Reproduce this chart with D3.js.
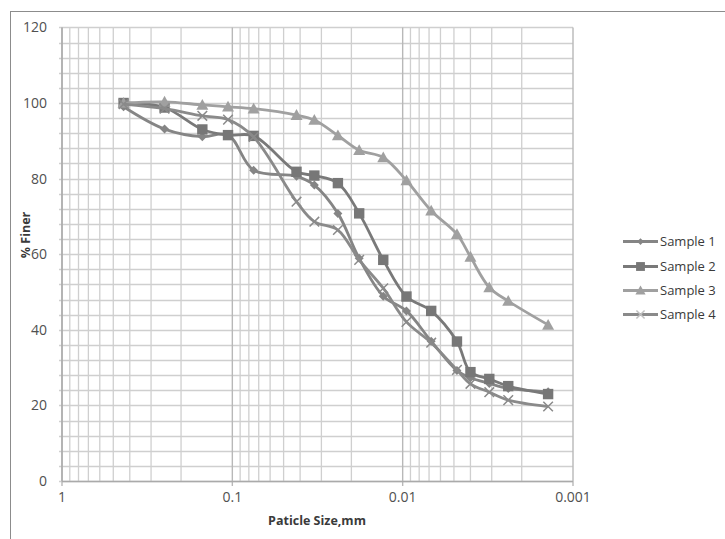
<!DOCTYPE html>
<html><head><meta charset="utf-8">
<script src="https://cdn.jsdelivr.net/npm/d3@7/dist/d3.min.js"></script>
<style>body{margin:0;background:#fff}svg{display:block}text{font-family:"Open Sans",sans-serif}</style>
</head><body><div id="chart"></div>
<script>
const sizes = [0.435, 0.25, 0.15, 0.106, 0.075, 0.042, 0.033, 0.024, 0.018, 0.013, 0.0095, 0.0068, 0.0048, 0.004, 0.0031, 0.0024, 0.0014];
const sample1 = [99, 93.1, 91.1, 91.6, 82.2, 80.6, 78.3, 70.8, 58.9, 48.9, 45, 37, 29.2, 27.3, 25.8, 24.5, 23.6];
const sample2 = [100, 98.8, 93, 91.5, 91.3, 81.8, 80.8, 78.8, 70.8, 58.5, 48.8, 45, 36.9, 28.8, 27, 25.1, 23];
const sample3 = [100, 100.3, 99.5, 99, 98.5, 96.8, 95.5, 91.4, 87.5, 85.6, 79.5, 71.5, 65.3, 59.3, 51.2, 47.6, 41.3];
const sample4 = [99.7, 98.5, 96.6, 95.6, 91, 73.9, 68.6, 66.4, 58.5, 51, 42.1, 36.6, 29.4, 25.7, 23.5, 21.4, 19.7];
const seriesNames = ["Sample 1", "Sample 2", "Sample 3", "Sample 4"];
const xTickLabels = ["1", "0.1", "0.01", "0.001"];
const yTicks = [0, 20, 40, 60, 80, 100, 120];

const W = 725, H = 539;
const svg = d3.select("#chart").append("svg").attr("width", W).attr("height", H);
const L = 62, R = 573, T = 27.4, B = 481;
const x = d3.scaleLog().domain([1, 0.001]).range([L, R]);
const y = d3.scaleLinear().domain([0, 120]).range([B, T]);

// outer border
svg.append("rect").attr("x", 10.5).attr("y", 11.5).attr("width", 900).attr("height", 900)
  .attr("fill", "none").attr("stroke", "#8c8c8c").attr("stroke-width", 1);

const g = svg.append("g");
d3.range(0, 121, 4).forEach(v => {
  g.append("line").attr("x1", L - 3).attr("x2", R).attr("y1", Math.round(y(v)) + 0.5).attr("y2", Math.round(y(v)) + 0.5)
    .attr("stroke", "#cfcfcf").attr("stroke-width", 1.3);
});
const decades = [1, 0.1, 0.01];
decades.forEach(d => {
  for (let k = 2; k <= 9; k++) {
    const v = d * k / 10;
    g.append("line").attr("x1", x(v)).attr("x2", x(v)).attr("y1", T).attr("y2", B)
      .attr("stroke", "#cfcfcf").attr("stroke-width", 1.3);
  }
});
[1, 0.1, 0.01, 0.001].forEach(v => {
  g.append("line").attr("x1", x(v)).attr("x2", x(v)).attr("y1", T).attr("y2", B + 5)
    .attr("stroke", "#b8b8b8").attr("stroke-width", 1.4);
});
g.append("line").attr("x1", L).attr("x2", L).attr("y1", T).attr("y2", B).attr("stroke", "#aaaaaa").attr("stroke-width", 1.4);
g.append("line").attr("x1", L).attr("x2", R).attr("y1", B + 0.5).attr("y2", B + 0.5).attr("stroke", "#aaaaaa").attr("stroke-width", 1.4);

yTicks.forEach(v => {
  svg.append("text").attr("x", 47).attr("y", y(v) + 5).attr("text-anchor", "end")
    .attr("font-size", 14).attr("fill", "#505050").text(v);
});
xTickLabels.forEach(s => {
  svg.append("text").attr("x", x(+s)).attr("y", 502).attr("text-anchor", "middle")
    .attr("font-size", 14).attr("fill", "#505050").text(s);
});
svg.append("text").attr("x", 317).attr("y", 524.5).attr("text-anchor", "middle")
  .attr("font-size", 12.5).attr("font-weight", "bold").attr("fill", "#3a3a3a").text("Paticle Size,mm");
svg.append("text").attr("transform", "translate(30,235) rotate(-90)").attr("text-anchor", "middle")
  .attr("font-size", 12.5).attr("font-weight", "bold").attr("fill", "#3a3a3a").text("% Finer");

const data = [sample1, sample2, sample3, sample4];
const colors = ["#858585", "#797979", "#a0a0a0", "#8a8a8a"];
const markers = ["diamond", "square", "triangle", "x"];

function drawMarker(sel, type, cx, cy, color, scale) {
  scale = scale || 1;
  if (type === "diamond") {
    const s = 4.5 * scale;
    sel.append("path").attr("d", `M${cx},${cy - s}L${cx + s},${cy}L${cx},${cy + s}L${cx - s},${cy}Z`).attr("fill", color);
  } else if (type === "square") {
    const s = 5.2 * scale;
    sel.append("rect").attr("x", cx - s).attr("y", cy - s).attr("width", 2 * s).attr("height", 2 * s).attr("fill", "#777");
  } else if (type === "triangle") {
    const s = 6 * scale;
    sel.append("path").attr("d", `M${cx},${cy - s}L${cx + s},${cy + s * 0.8}L${cx - s},${cy + s * 0.8}Z`).attr("fill", color);
  } else {
    const s = 4.8 * scale;
    sel.append("path").attr("d", `M${cx - s},${cy - s}L${cx + s},${cy + s}M${cx - s},${cy + s}L${cx + s},${cy - s}`)
      .attr("stroke", color).attr("stroke-width", 1.5).attr("fill", "none");
  }
}

const line = d3.line().x(d => x(d[0])).y(d => y(d[1])).curve(d3.curveCatmullRom.alpha(0.5));
data.forEach((arr, i) => {
  const pts = sizes.map((s, j) => [s, arr[j]]);
  const gs = svg.append("g");
  gs.append("path").attr("d", line(pts)).attr("fill", "none").attr("stroke", colors[i]).attr("stroke-width", 2.8);
  pts.forEach(p => drawMarker(gs, markers[i], x(p[0]), y(p[1]), colors[i]));
});

const legY = [241.5, 266.5, 290.5, 314.5];
seriesNames.forEach((n, i) => {
  const lg = svg.append("g");
  lg.append("line").attr("x1", 623).attr("x2", 658).attr("y1", legY[i]).attr("y2", legY[i])
    .attr("stroke", colors[i]).attr("stroke-width", 2.8);
  drawMarker(lg, markers[i], 640.5, legY[i], i === 3 ? "#c0c0c0" : colors[i], i === 0 ? 0.75 : 0.85);
  lg.append("text").attr("x", 660).attr("y", legY[i] + 4.5).attr("font-size", 13).attr("fill", "#3a3a3a").text(n);
});
</script></body></html>
